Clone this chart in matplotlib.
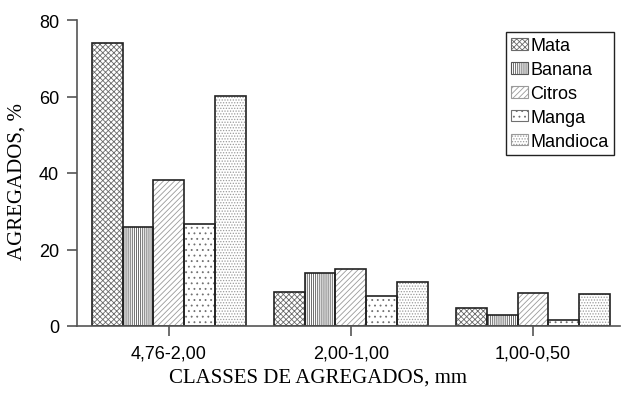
import matplotlib
matplotlib.use("Agg")
import matplotlib.pyplot as plt
import matplotlib.patches as mpatches
import numpy as np

categories = ["4,76-2,00", "2,00-1,00", "1,00-0,50"]
series = ["Mata", "Banana", "Citros", "Manga", "Mandioca"]
mata = [74.1, 8.8, 4.6]
banana = [26.0, 13.9, 3.0]
citros = [38.2, 14.8, 8.6]
manga = [26.7, 7.8, 1.5]
mandioca = [60.2, 11.4, 8.4]
values = [mata, banana, citros, manga, mandioca]
yticks = [0, 20, 40, 60, 80]

hatches = ["xxxxxx", "||||||||", "//////", "...", "......"]
hatch_colors = ["#6a6a6a", "#555555", "#9a9a9a", "#707070", "#9a9a9a"]

plt.rcParams['hatch.linewidth'] = 0.6
fig = plt.figure(figsize=(6.21, 4.02), dpi=100)
W, H = 621, 402
ax = fig.add_axes([77 / W, 1 - 327 / H, (620 - 77) / W, (327 - 21) / H])

x = np.arange(len(categories))
bw = 0.17
handles = []
for i, (name, vals) in enumerate(zip(series, values)):
    pos = x + (i - 2) * bw
    ax.bar(pos, vals, bw, color="white", edgecolor=hatch_colors[i],
           hatch=hatches[i], linewidth=0, zorder=2)
    ax.bar(pos, vals, bw, color="none", edgecolor="#222222",
           linewidth=1.2, zorder=3)
    h = mpatches.Patch(facecolor="white", edgecolor=hatch_colors[i],
                       hatch=hatches[i], linewidth=0.8)
    handles.append(h)

ax.set_xlim(-0.505, 2.478)
ax.set_ylim(0, 80)
ax.set_yticks(yticks)
ax.set_xticks(x)
ax.set_xticklabels(categories)
for s in ["top", "right"]:
    ax.spines[s].set_visible(False)
for s in ["left", "bottom"]:
    ax.spines[s].set_color("#555555")
    ax.spines[s].set_linewidth(1.2)
    ax.spines[s].set_zorder(4)
ax.tick_params(axis="both", direction="out", length=7, width=1.2,
               color="#555555", labelsize=13, pad=6)
for lab in ax.get_xticklabels() + ax.get_yticklabels():
    lab.set_fontfamily("Liberation Sans")

fig.text(318 / W, 1 - 378 / H, "CLASSES DE AGREGADOS, mm",
         family="Liberation Serif", fontsize=15, ha="center", va="center")
fig.text(17 / W, 1 - 181 / H, "AGREGADOS, %",
         family="Liberation Serif", fontsize=15, ha="center", va="center",
         rotation=90)

leg = fig.legend(handles, series, loc="upper right",
                 bbox_to_anchor=(614 / W, 1 - 33 / H),
                 prop={"family": "Liberation Sans", "size": 13},
                 fancybox=False, edgecolor="#222222", framealpha=1,
                 handlelength=0.9, handleheight=0.6, handletextpad=0.15,
                 labelspacing=0.38, borderpad=0.3, borderaxespad=0)
leg.get_frame().set_linewidth(1.0)

fig.savefig("out.png", dpi=100)
